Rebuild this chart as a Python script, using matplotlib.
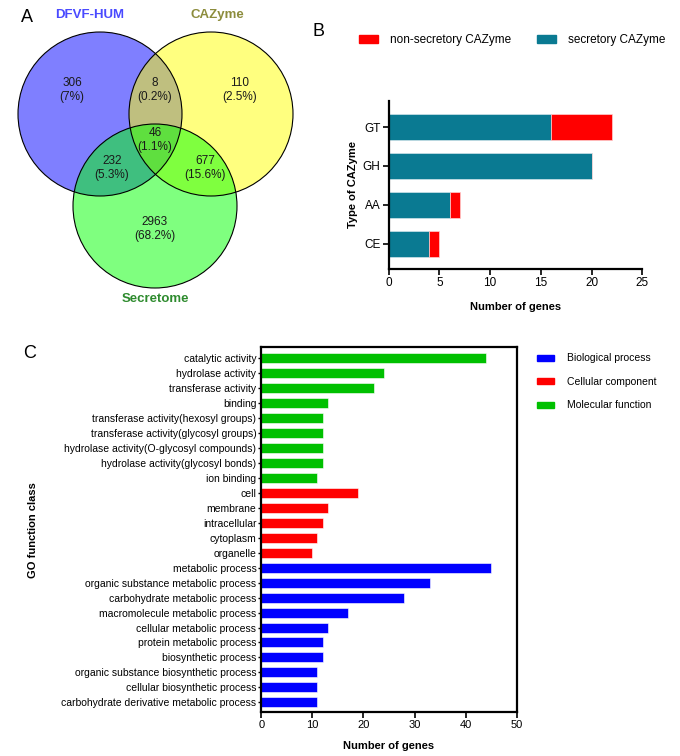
import numpy as np
import matplotlib
matplotlib.use("Agg")
import matplotlib.pyplot as plt
from matplotlib.patches import Circle, Patch

plt.rcParams['font.family'] = ['Liberation Sans', 'DejaVu Sans']

# panel A: Venn region counts
venn_sets = ["DFVF-HUM", "CAZyme", "Secretome"]
venn_counts = {"100": 306, "110": 8, "010": 110, "111": 46,
               "101": 232, "011": 677, "001": 2963}
venn_pct = {"100": "7%", "110": "0.2%", "010": "2.5%", "111": "1.1%",
            "101": "5.3%", "011": "15.6%", "001": "68.2%"}

# panel B
caz_types = ["CE", "AA", "GH", "GT"]
caz_secretory = [4, 6, 20, 16]
caz_nonsecretory = [1, 1, 0, 6]

# panel C
go_terms = [
    "catalytic activity", "hydrolase activity", "transferase activity", "binding",
    "transferase activity(hexosyl groups)", "transferase activity(glycosyl groups)",
    "hydrolase activity(O-glycosyl compounds)", "hydrolase activity(glycosyl bonds)",
    "ion binding",
    "cell", "membrane", "intracellular", "cytoplasm", "organelle",
    "metabolic process", "organic substance metabolic process",
    "carbohydrate metabolic process", "macromolecule metabolic process",
    "cellular metabolic process", "protein metabolic process", "biosynthetic process",
    "organic substance biosynthetic process", "cellular biosynthetic process",
    "carbohydrate derivative metabolic process",
]
go_counts = [44, 24, 22, 13, 12, 12, 12, 12, 11,
             19, 13, 12, 11, 10,
             45, 33, 28, 17, 13, 12, 12, 11, 11, 11]
go_class = ["Molecular function"] * 9 + ["Cellular component"] * 5 + ["Biological process"] * 10
go_colors = {"Biological process": "#0000ff", "Cellular component": "#ff0000",
             "Molecular function": "#00c000"}

W, H = 680, 756
fig = plt.figure(figsize=(W / 100, H / 100), dpi=100)


def px_axes(l, t, r, b):
    return fig.add_axes([l / W, 1 - b / H, (r - l) / W, (b - t) / H])


# ---- A: Venn ----
axa = px_axes(0, 0, 330, 320)
axa.set_xlim(0, 330)
axa.set_ylim(320, 0)
axa.axis("off")
R = 82
centers = [(100, 114), (211, 114), (155, 206)]
fills = ["#0000ff", "#ffff00", "#00ff00"]
for c, f in zip(centers, fills):
    axa.add_patch(Circle(c, R, facecolor=f, alpha=0.5, edgecolor="none"))
for c in centers:
    axa.add_patch(Circle(c, R, facecolor="none", edgecolor="black", lw=0.8))

label_pos = {"100": (72, 90), "110": (155, 90), "010": (240, 90), "111": (155, 140),
             "101": (112, 168), "011": (205, 168), "001": (155, 229)}
for k, (x, y) in label_pos.items():
    axa.text(x, y, f"{venn_counts[k]}\n({venn_pct[k]})", ha="center", va="center",
             fontsize=8.5, color="#1a1a1a", linespacing=1.25)

axa.text(90, 15, venn_sets[0], ha="center", va="center", fontsize=9.5,
         fontweight="bold", color="#4a4aff")
axa.text(217, 15, venn_sets[1], ha="center", va="center", fontsize=9.5,
         fontweight="bold", color="#8c8c3c")
axa.text(155, 299, venn_sets[2], ha="center", va="center", fontsize=9.5,
         fontweight="bold", color="#2e8b2e")
fig.text(27 / W, 1 - 18 / H, "A", fontsize=13, ha="center", va="center")
fig.text(318 / W, 1 - 31 / H, "B", fontsize=13, ha="center", va="center")
fig.text(30 / W, 1 - 353 / H, "C", fontsize=13, ha="center", va="center")

# ---- B: stacked bars ----
axb = px_axes(388.7, 101, 642.3, 269)
yb = np.arange(len(caz_types))
teal = "#0a7a92"
axb.barh(yb, caz_secretory, height=0.67, color=teal, edgecolor="#d0e4ea", lw=0.5,
         label="secretory CAZyme")
axb.barh(yb, caz_nonsecretory, left=caz_secretory, height=0.67, color="#ff0000",
         edgecolor="#ffd0d0", lw=0.5, label="non-secretory CAZyme")
axb.set_xlim(0, 25)
axb.set_ylim(-0.65, 3.67)
axb.set_xticks([0, 5, 10, 15, 20, 25])
axb.set_yticks(yb)
axb.set_yticklabels(caz_types)
for s in ["top", "right"]:
    axb.spines[s].set_visible(False)
for s in ["left", "bottom"]:
    axb.spines[s].set_linewidth(1.6)
axb.tick_params(width=1.2, length=4, labelsize=8.5, pad=2)
axb.set_xlabel("Number of genes", fontsize=8, fontweight="bold", labelpad=9)
axb.set_ylabel("Type of CAZyme", fontsize=8, fontweight="bold", labelpad=3)
hb = [Patch(color="#ff0000"), Patch(color=teal)]
fig.legend(hb, ["non-secretory CAZyme", "secretory CAZyme"], loc="center",
           bbox_to_anchor=(512 / W, 1 - 40 / H), ncol=2, frameon=False, fontsize=8.5,
           handlelength=1.6, handleheight=0.6, columnspacing=2.2, handletextpad=1.0)

# ---- C: GO bars ----
axc = px_axes(261.3, 347, 516.7, 712)
yc = np.arange(len(go_terms))[::-1]
axc.barh(yc, go_counts, height=0.67, color=[go_colors[c] for c in go_class],
         edgecolor="white", lw=0.4)
axc.set_xlim(0, 50)
axc.set_ylim(-0.65, len(go_terms) - 1 + 0.76)
axc.set_xticks([0, 10, 20, 30, 40, 50])
axc.set_yticks(yc)
axc.set_yticklabels(go_terms)
for s in axc.spines.values():
    s.set_linewidth(1.6)
axc.tick_params(axis="y", width=1.0, length=2.5, labelsize=7.5, pad=1)
axc.tick_params(axis="x", width=1.2, length=4, labelsize=8, pad=2)
axc.set_xlabel("Number of genes", fontsize=8, fontweight="bold", labelpad=8)
fig.text(33 / W, 1 - 530 / H, "GO function class", rotation=90, fontsize=8,
         fontweight="bold", ha="center", va="center")
order = ["Biological process", "Cellular component", "Molecular function"]
hc = [Patch(color=go_colors[k]) for k in order]
fig.legend(hc, order, loc="upper left", bbox_to_anchor=(528 / W, 1 - 344 / H),
           frameon=False, fontsize=7.5, handlelength=1.6, handleheight=0.5,
           labelspacing=1.3, handletextpad=1.2)

fig.savefig("out.png", dpi=100)
